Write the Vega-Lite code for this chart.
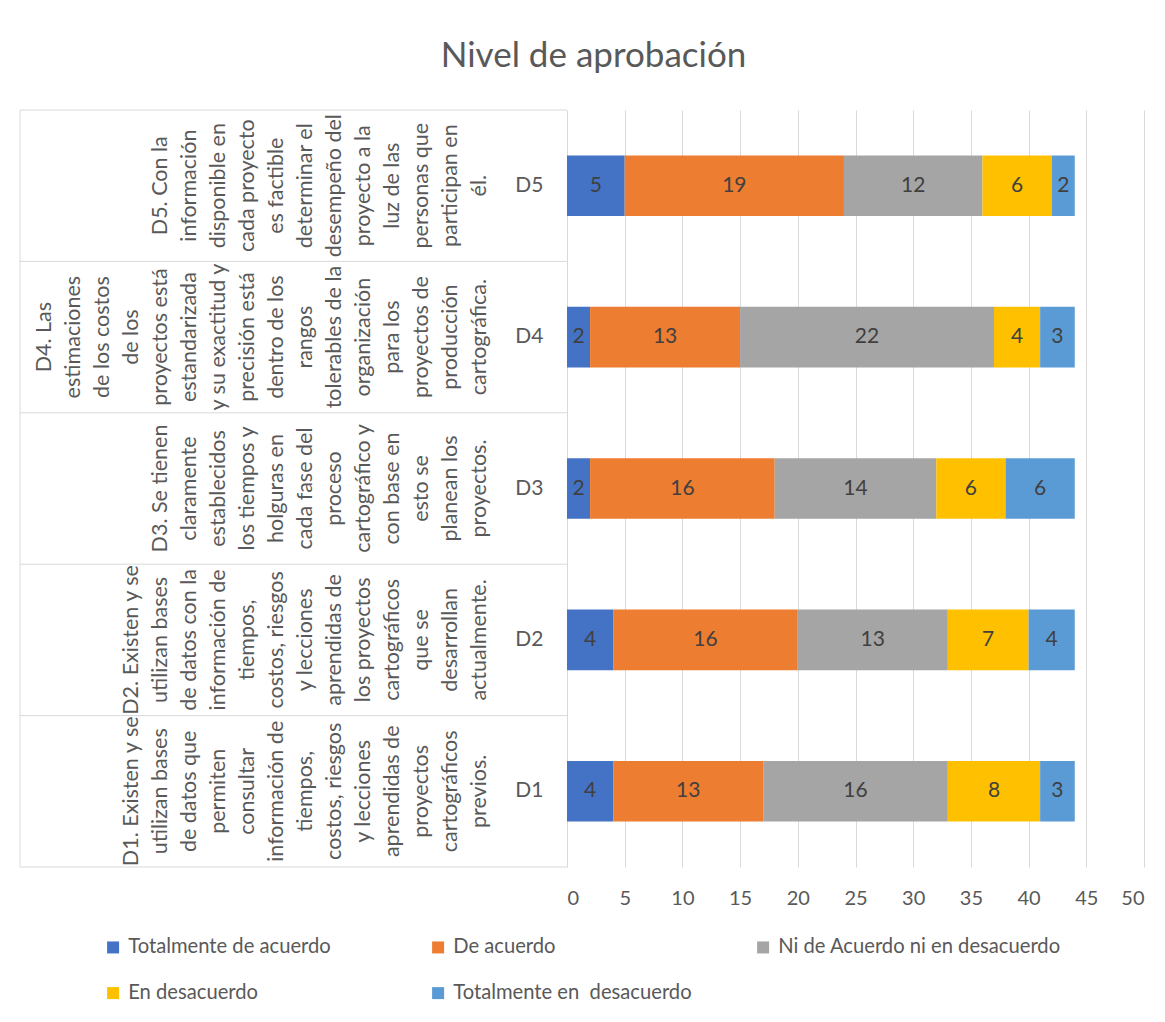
{
  "$schema": "https://vega.github.io/schema/vega-lite/v6.json",
  "width": 577,
  "height": 757,
  "autosize": "none",
  "padding": {"left": 567, "top": 110, "right": 21, "bottom": 155},
  "background": "white",
  "config": {
    "font": "Lato",
    "view": {"stroke": null},
    "axisX": {"grid": true, "gridColor": "#D9D9D9", "gridWidth": 1, "ticks": false, "domain": false, "labelFontSize": 20, "labelColor": "#595959", "labelPadding": 21, "title": null, "values": [0, 5, 10, 15, 20, 25, 30, 35, 40, 45, 50]},
    "axisY": {"grid": false, "ticks": false, "domain": false, "labelFontSize": 21, "labelColor": "#595959", "labelPadding": 24, "title": null},
    "text": {"angle": 0}
  },
  "title": {"text": "Nivel de aprobación", "fontSize": 35, "font": "Lato", "fontWeight": "normal", "color": "#595959", "anchor": "middle", "frame": "group", "dx": -262, "offset": 8, "baseline": "alphabetic"},
  "datasets": {
    "barras": [
      {"q": "D5", "cat": "Totalmente de acuerdo", "value": 5},
      {"q": "D5", "cat": "De acuerdo", "value": 19},
      {"q": "D5", "cat": "Ni de Acuerdo ni en desacuerdo", "value": 12},
      {"q": "D5", "cat": "En desacuerdo", "value": 6},
      {"q": "D5", "cat": "Totalmente en  desacuerdo", "value": 2},
      {"q": "D4", "cat": "Totalmente de acuerdo", "value": 2},
      {"q": "D4", "cat": "De acuerdo", "value": 13},
      {"q": "D4", "cat": "Ni de Acuerdo ni en desacuerdo", "value": 22},
      {"q": "D4", "cat": "En desacuerdo", "value": 4},
      {"q": "D4", "cat": "Totalmente en  desacuerdo", "value": 3},
      {"q": "D3", "cat": "Totalmente de acuerdo", "value": 2},
      {"q": "D3", "cat": "De acuerdo", "value": 16},
      {"q": "D3", "cat": "Ni de Acuerdo ni en desacuerdo", "value": 14},
      {"q": "D3", "cat": "En desacuerdo", "value": 6},
      {"q": "D3", "cat": "Totalmente en  desacuerdo", "value": 6},
      {"q": "D2", "cat": "Totalmente de acuerdo", "value": 4},
      {"q": "D2", "cat": "De acuerdo", "value": 16},
      {"q": "D2", "cat": "Ni de Acuerdo ni en desacuerdo", "value": 13},
      {"q": "D2", "cat": "En desacuerdo", "value": 7},
      {"q": "D2", "cat": "Totalmente en  desacuerdo", "value": 4},
      {"q": "D1", "cat": "Totalmente de acuerdo", "value": 4},
      {"q": "D1", "cat": "De acuerdo", "value": 13},
      {"q": "D1", "cat": "Ni de Acuerdo ni en desacuerdo", "value": 16},
      {"q": "D1", "cat": "En desacuerdo", "value": 8},
      {"q": "D1", "cat": "Totalmente en  desacuerdo", "value": 3}
    ],
    "preguntas": [
      {"q": "D5", "texto": "D5. Con la\ninformación\ndisponible en\ncada proyecto\nes factible\ndeterminar el\ndesempeño del\nproyecto a la\nluz de las\npersonas que\nparticipan en\nél."},
      {"q": "D4", "texto": "D4. Las\nestimaciones\nde los costos\nde los\nproyectos está\nestandarizada\ny su exactitud y\nprecisión está\ndentro de los\nrangos\ntolerables de la\norganización\npara los\nproyectos de\nproducción\ncartográfica."},
      {"q": "D3", "texto": "D3. Se tienen\nclaramente\nestablecidos\nlos tiempos y\nholguras en\ncada fase del\nproceso\ncartográfico y\ncon base en\nesto se\nplanean los\nproyectos."},
      {"q": "D2", "texto": "D2. Existen y se\nutilizan bases\nde datos con la\ninformación de\ntiempos,\ncostos, riesgos\ny lecciones\naprendidas de\nlos proyectos\ncartográficos\nque se\ndesarrollan\nactualmente."},
      {"q": "D1", "texto": "D1. Existen y se\nutilizan bases\nde datos que\npermiten\nconsultar\ninformación de\ntiempos,\ncostos, riesgos\ny lecciones\naprendidas de\nproyectos\ncartográficos\nprevios."}
    ]
  },
  "layer": [
    {
      "data": {"name": "preguntas"},
      "mark": {"type": "rule", "color": "#D9D9D9", "strokeWidth": 1},
      "encoding": {
        "x": {"datum": -47.4, "type": "quantitative", "scale": {"domain": [0, 50], "nice": false, "zero": false}},
        "x2": {"datum": 0},
        "y": {"field": "q", "type": "nominal", "bandPosition": -0.75, "scale": {"domain": ["D5", "D4", "D3", "D2", "D1"], "paddingInner": 0.6, "paddingOuter": 0.3}}
      }
    },
    {
      "data": {"name": "preguntas"},
      "transform": [{"filter": "datum.q === 'D1'"}],
      "mark": {"type": "rule", "color": "#D9D9D9", "strokeWidth": 1},
      "encoding": {
        "x": {"datum": -47.4, "type": "quantitative", "scale": {"domain": [0, 50], "nice": false, "zero": false}},
        "x2": {"datum": 0},
        "y": {"field": "q", "type": "nominal", "bandPosition": 1.75, "scale": {"domain": ["D5", "D4", "D3", "D2", "D1"], "paddingInner": 0.6, "paddingOuter": 0.3}}
      }
    },
    {
      "data": {"values": [{}]},
      "mark": {"type": "rule", "color": "#D9D9D9", "strokeWidth": 1},
      "encoding": {
        "x": {"datum": -47.4, "type": "quantitative", "scale": {"domain": [0, 50], "nice": false, "zero": false}}
      }
    },
    {
      "data": {"name": "preguntas"},
      "transform": [{"filter": "datum.q === 'D5' || datum.q === 'D3'"}],
      "mark": {"type": "text", "angle": 270, "align": "center", "baseline": "alphabetic", "lineBreak": "\n", "lineHeight": 29, "fontSize": 21.5, "color": "#595959", "font": "Lato"},
      "encoding": {
        "x": {"datum": -34.66, "type": "quantitative", "scale": {"domain": [0, 50], "nice": false, "zero": false}},
        "y": {"field": "q", "type": "nominal", "scale": {"domain": ["D5", "D4", "D3", "D2", "D1"], "paddingInner": 0.6, "paddingOuter": 0.3}},
        "text": {"field": "texto"}
      }
    },
    {
      "data": {"name": "preguntas"},
      "transform": [{"filter": "datum.q === 'D2' || datum.q === 'D1'"}],
      "mark": {"type": "text", "angle": 270, "align": "center", "baseline": "alphabetic", "lineBreak": "\n", "lineHeight": 29, "fontSize": 21.5, "color": "#595959", "font": "Lato"},
      "encoding": {
        "x": {"datum": -37.18, "type": "quantitative", "scale": {"domain": [0, 50], "nice": false, "zero": false}},
        "y": {"field": "q", "type": "nominal", "scale": {"domain": ["D5", "D4", "D3", "D2", "D1"], "paddingInner": 0.6, "paddingOuter": 0.3}},
        "text": {"field": "texto"}
      }
    },
    {
      "data": {"name": "preguntas"},
      "transform": [{"filter": "datum.q === 'D4'"}],
      "mark": {"type": "text", "angle": 270, "align": "center", "baseline": "alphabetic", "lineBreak": "\n", "lineHeight": 29, "fontSize": 21.5, "color": "#595959", "font": "Lato"},
      "encoding": {
        "x": {"datum": -44.71, "type": "quantitative", "scale": {"domain": [0, 50], "nice": false, "zero": false}},
        "y": {"field": "q", "type": "nominal", "scale": {"domain": ["D5", "D4", "D3", "D2", "D1"], "paddingInner": 0.6, "paddingOuter": 0.3}},
        "text": {"field": "texto"}
      }
    },
    {
      "data": {"name": "barras"},
      "transform": [{"window": [{"op": "row_number", "as": "orden"}], "groupby": ["q"]}],
      "mark": {"type": "bar"},
      "encoding": {
        "x": {"field": "value", "type": "quantitative", "stack": "zero", "scale": {"domain": [0, 50], "nice": false, "zero": false}, "axis": {"title": null}},
        "y": {"field": "q", "type": "nominal", "scale": {"domain": ["D5", "D4", "D3", "D2", "D1"], "paddingInner": 0.6, "paddingOuter": 0.3}, "axis": {"title": null}},
        "color": {
          "field": "cat", "type": "nominal",
          "scale": {"domain": ["Totalmente de acuerdo", "De acuerdo", "Ni de Acuerdo ni en desacuerdo", "En desacuerdo", "Totalmente en  desacuerdo"], "range": ["#4472C4", "#ED7D31", "#A5A5A5", "#FFC000", "#5B9BD5"]},
          "legend": {"orient": "none", "legendX": -464, "legendY": 827, "columns": 3, "direction": "horizontal", "symbolType": "square", "symbolSize": 144, "symbolStrokeWidth": 0, "labelFontSize": 20.2, "labelColor": "#595959", "labelFont": "Lato", "gridAlign": "all", "columnPadding": 17, "rowPadding": 25, "labelOffset": 5, "title": null, "labelLimit": 400, "padding": 0, "labelExpr": "replace(datum.label, '  ', '\u00a0 ')"}
        },
        "order": {"field": "orden", "type": "quantitative"}
      }
    },
    {
      "data": {"name": "barras"},
      "transform": [{"window": [{"op": "row_number", "as": "orden"}], "groupby": ["q"]}],
      "mark": {"type": "text", "fontSize": 21, "color": "#404040", "font": "Lato"},
      "encoding": {
        "x": {"field": "value", "type": "quantitative", "stack": "zero", "bandPosition": 0.5, "scale": {"domain": [0, 50], "nice": false, "zero": false}},
        "y": {"field": "q", "type": "nominal", "scale": {"domain": ["D5", "D4", "D3", "D2", "D1"], "paddingInner": 0.6, "paddingOuter": 0.3}},
        "detail": {"field": "cat", "type": "nominal"},
        "order": {"field": "orden", "type": "quantitative"},
        "text": {"field": "value", "type": "quantitative"}
      }
    }
  ]
}
